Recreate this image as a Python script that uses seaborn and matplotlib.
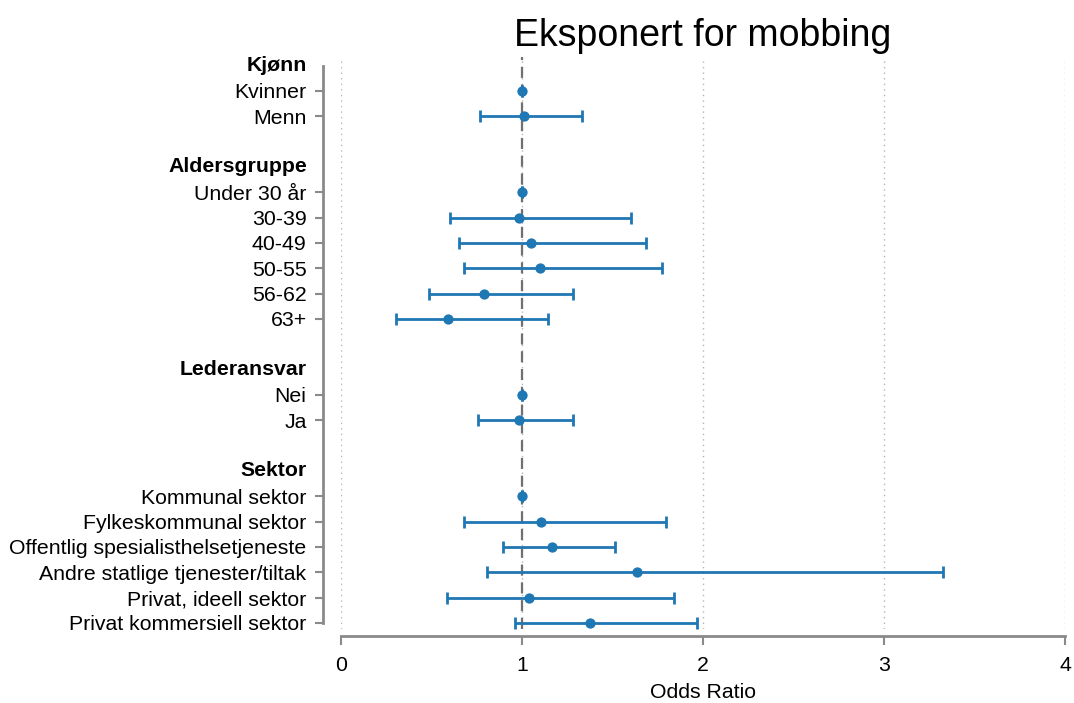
import numpy as np
import pandas as pd
import matplotlib
matplotlib.use("Agg")
import matplotlib.pyplot as plt
import matplotlib.transforms as mtransforms
import seaborn as sns

# ---- data ----
groups = ["Kjønn", "Aldersgruppe", "Lederansvar", "Sektor"]
group_levels = [
    ["Kvinner", "Menn"],
    ["Under 30 år", "30-39", "40-49", "50-55", "56-62", "63+"],
    ["Nei", "Ja"],
    ["Kommunal sektor", "Fylkeskommunal sektor", "Offentlig spesialisthelsetjeneste",
     "Andre statlige tjenester/tiltak", "Privat, ideell sektor", "Privat kommersiell sektor"],
]
odds_ratio = [
    [1.00, 1.013],
    [1.00, 0.983, 1.051, 1.099, 0.788, 0.591],
    [1.00, 0.983],
    [1.00, 1.105, 1.164, 1.636, 1.040, 1.377],
]
ci_lower = [
    [1.00, 0.770],
    [1.00, 0.602, 0.654, 0.678, 0.484, 0.304],
    [1.00, 0.756],
    [1.00, 0.680, 0.893, 0.806, 0.587, 0.964],
]
ci_upper = [
    [1.00, 1.333],
    [1.00, 1.602, 1.687, 1.775, 1.280, 1.145],
    [1.00, 1.284],
    [1.00, 1.794, 1.516, 3.326, 1.840, 1.966],
]
x_ticks = [0, 1, 2, 3, 4]
title = "Eksponert for mobbing"
x_label = "Odds Ratio"

# ---- build table with row positions (header + levels + blank spacer) ----
rows = []
header_rows = []
pos = 0
for g, levels, ors, los, his in zip(groups, group_levels, odds_ratio, ci_lower, ci_upper):
    header_rows.append((pos, g))
    pos += 1
    for lv, o, lo, hi in zip(levels, ors, los, his):
        rows.append(dict(group=g, label=lv, pos=pos, OR=o, lo=lo, hi=hi))
        pos += 1
    pos += 1  # spacer
df = pd.DataFrame(rows)
last_pos = df["pos"].max()

# ---- style ----
sns.set_theme(style="white")
plt.rcParams["font.family"] = ["Liberation Sans", "DejaVu Sans"]
plt.rcParams["text.color"] = "black"
plt.rcParams["axes.labelcolor"] = "black"

color = "#1f77b4"
grey = "#8a8a8a"
fs = 15.3

fig = plt.figure(figsize=(10.74, 7.03), dpi=100)
ax = fig.add_axes([341 / 1074, 1 - 629 / 703, 724 / 1074, (629 - 57) / 703])

# grid lines
for xt in x_ticks:
    ax.axvline(xt, color="#b5b5b5", linestyle=(0, (1, 3)), linewidth=1.0, zorder=0)
ax.axvline(1, color="#707070", linestyle=(0, (5, 3)), linewidth=1.6, zorder=1)

# error bars
ax.errorbar(df["OR"], df["pos"],
            xerr=[df["OR"] - df["lo"], df["hi"] - df["OR"]],
            fmt="none", ecolor=color, elinewidth=2.0, capsize=4.5, capthick=2.0,
            zorder=2, clip_on=False)
sns.scatterplot(data=df, x="OR", y="pos", ax=ax, color=color, s=55,
                edgecolor=color, linewidth=0, zorder=3, legend=False, clip_on=False)

ax.set_xlim(0, 4)
ax.set_ylim(last_pos + 0.24, -0.34)
ax.set_xticks(x_ticks)
ax.set_xticklabels([str(t) for t in x_ticks])
ax.set_yticks(list(df["pos"]))
ax.set_yticklabels(list(df["label"]))
ax.set_xlabel(x_label, fontsize=fs, labelpad=6, color="black")
ax.set_ylabel("")
ax.set_title(title, fontsize=27, pad=8, color="black")

for side in ["top", "right"]:
    ax.spines[side].set_visible(False)
ax.spines["left"].set_position(("outward", 13))
ax.spines["left"].set_bounds(0, last_pos)
ax.spines["bottom"].set_position(("outward", 5))
ax.spines["bottom"].set_bounds(0, 4)
for side in ["left", "bottom"]:
    ax.spines[side].set_color(grey)
    ax.spines[side].set_linewidth(2.0)

ax.tick_params(axis="y", which="major", length=6, width=1.5, color=grey, pad=5.8,
               left=True, labelsize=fs, labelcolor="black")
ax.tick_params(axis="x", which="major", length=6.5, width=1.5, color=grey, pad=8,
               bottom=True, labelsize=fs, labelcolor="black")

# headers
trans = mtransforms.blended_transform_factory(ax.transAxes, ax.transData)
trans = mtransforms.offset_copy(trans, fig=fig, x=-34, y=0, units="dots")
for p, g in header_rows:
    ax.text(0, p, g, transform=trans, ha="right", va="center",
            fontsize=fs, fontweight="bold", color="black")

fig.savefig("out.png", dpi=100)
